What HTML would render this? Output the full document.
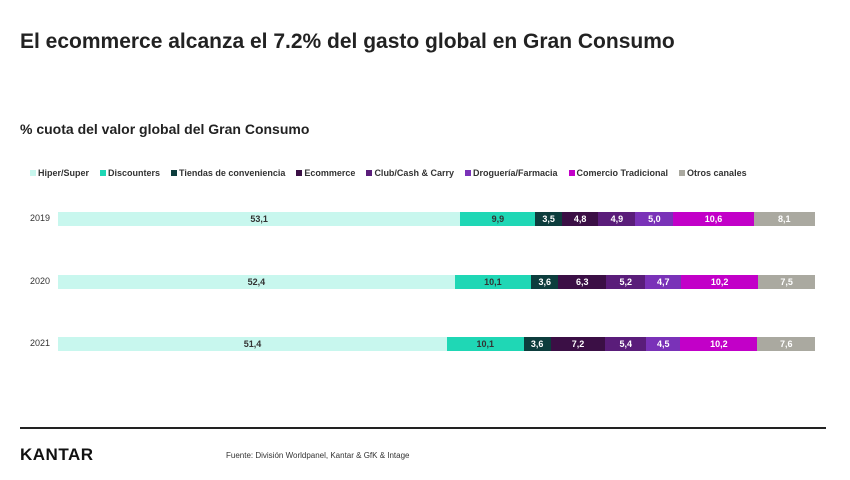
<!DOCTYPE html>
<html><head><meta charset="utf-8"><style>
body{margin:0;width:850px;height:480px;background:#fff;font-family:"Liberation Sans",Arial,sans-serif;position:relative;overflow:hidden}
.t{position:absolute;left:20px;top:30px;font-size:21px;font-weight:bold;color:#222}
.s{position:absolute;left:20px;top:121px;font-size:14px;font-weight:bold;color:#222}
.lg{position:absolute;left:30px;top:168px;font-size:9px;font-weight:bold;color:#333;white-space:nowrap}
.lg span{margin-right:11px}.lg i{display:inline-block;width:6px;height:6px;margin-right:2px;vertical-align:0}
.row{position:absolute;left:58px;width:757px;height:14px;display:flex}
.row div{height:14px;font-size:9px;font-weight:bold;color:#fff;text-align:center;line-height:14px}
.y{position:absolute;left:30px;font-size:9px;color:#333}
.a{background:#c8f7ee;color:#333!important}.b{background:#1fd7b5;color:#333!important}.c{background:#0d3d3d}.d{background:#3b0f45}.e{background:#5a1d7a}.f{background:#7a32b8}.g{background:#c200c8}.h{background:#aaa9a0}
.line{position:absolute;left:20px;top:427px;width:806px;height:2px;background:#222}
.k{position:absolute;left:20px;top:445px;font-size:17px;font-weight:bold;color:#111;letter-spacing:0.5px}
.f2{position:absolute;left:226px;top:451px;font-size:8px;color:#333}
</style></head><body>
<div class="t">El ecommerce alcanza el 7.2% del gasto global en Gran Consumo</div>
<div class="s">% cuota del valor global del Gran Consumo</div>
<div class="lg"><span><i class="a"></i>Hiper/Super</span><span><i class="b"></i>Discounters</span><span><i class="c"></i>Tiendas de conveniencia</span><span><i class="d"></i>Ecommerce</span><span><i class="e"></i>Club/Cash &amp; Carry</span><span><i class="f"></i>Droguería/Farmacia</span><span><i class="g"></i>Comercio Tradicional</span><span><i class="h"></i>Otros canales</span></div>
<div class="y" style="top:213px">2019</div>
<div class="row" style="top:212px"><div class="a" style="flex:53.1">53,1</div><div class="b" style="flex:9.9">9,9</div><div class="c" style="flex:3.5">3,5</div><div class="d" style="flex:4.8">4,8</div><div class="e" style="flex:4.9">4,9</div><div class="f" style="flex:5.0">5,0</div><div class="g" style="flex:10.6">10,6</div><div class="h" style="flex:8.1">8,1</div></div>
<div class="y" style="top:276px">2020</div>
<div class="row" style="top:275px"><div class="a" style="flex:52.4">52,4</div><div class="b" style="flex:10.1">10,1</div><div class="c" style="flex:3.6">3,6</div><div class="d" style="flex:6.3">6,3</div><div class="e" style="flex:5.2">5,2</div><div class="f" style="flex:4.7">4,7</div><div class="g" style="flex:10.2">10,2</div><div class="h" style="flex:7.5">7,5</div></div>
<div class="y" style="top:338px">2021</div>
<div class="row" style="top:337px"><div class="a" style="flex:51.4">51,4</div><div class="b" style="flex:10.1">10,1</div><div class="c" style="flex:3.6">3,6</div><div class="d" style="flex:7.2">7,2</div><div class="e" style="flex:5.4">5,4</div><div class="f" style="flex:4.5">4,5</div><div class="g" style="flex:10.2">10,2</div><div class="h" style="flex:7.6">7,6</div></div>
<div class="line"></div>
<div class="k">KANTAR</div>
<div class="f2">Fuente: División Worldpanel, Kantar &amp; GfK &amp; Intage</div>
</body></html>
